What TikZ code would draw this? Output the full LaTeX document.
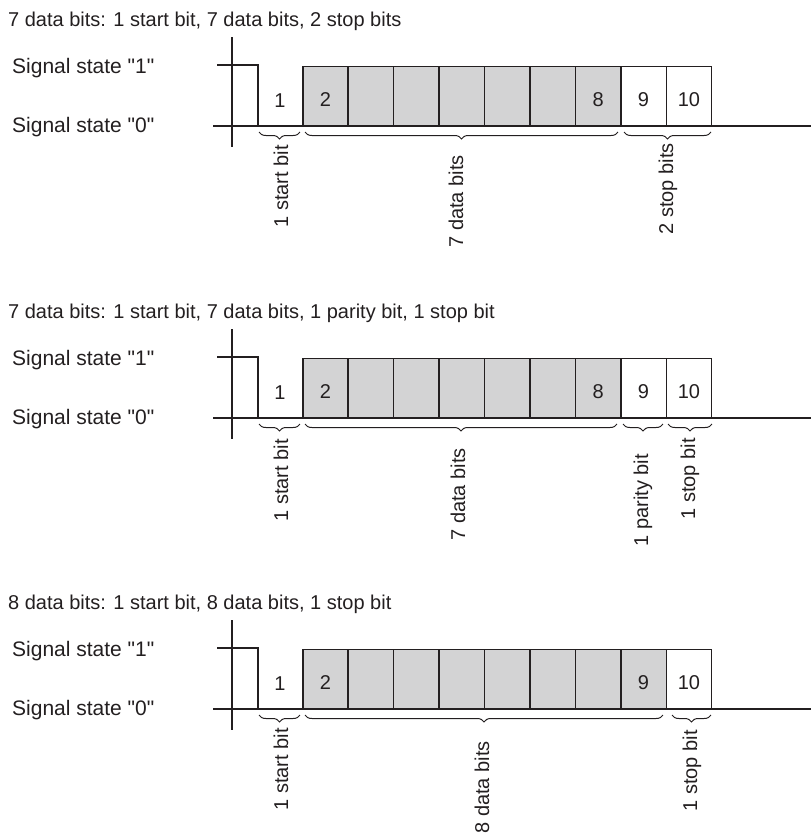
\documentclass[tikz,border=0pt]{standalone}
\usepackage{fontspec}
\setmainfont{Liberation Sans}[Ligatures=TeXOff]
\usetikzlibrary{decorations.pathreplacing}
\definecolor{ink}{RGB}{35,31,32}
\definecolor{databit}{RGB}{211,211,212}
\tikzset{
  bitbox/.style={draw=ink, line width=1.5pt, minimum width=45.44pt, minimum height=59pt,
    inner sep=0pt, text height=21pt, text depth=0pt, anchor=south west,
    font=\fontsize{20}{24}\selectfont, text=ink},
  startgap/.style={text=ink, font=\fontsize{20}{24}\selectfont, text height=21pt,
    text depth=0pt, inner sep=0pt, minimum height=59pt},
  sig/.style={draw=ink, line width=1.3pt},
  brc/.style={draw=ink, line width=1pt, decorate,
    decoration={brace, mirror, amplitude=7pt, aspect=0.5}},
  brl/.style={rotate=90, anchor=east, inner sep=0pt, text=ink, font=\fontsize{20}{24}\selectfont},
  ttl/.style={anchor=base west, inner sep=0pt, text=ink, font=\fontsize{20}{24}\selectfont},
  lvl/.style={anchor=base west, inner sep=0pt, text=ink, font=\fontsize{21}{25}\selectfont},
}
\begin{document}
\begin{tikzpicture}[x=1pt, y=-1pt]
\useasboundingbox (0,0) rectangle (811,839);

% ---------- frame 1: 7 data bits, 2 stop bits ----------
\begin{scope}
  \node[ttl] (t1) at (8,26) {7 data bits: 1 start bit, 7 data bits, 2 stop bits};
  \node[lvl] (h1) at (12,73) {Signal state "1"};
  \node[lvl] (l1) at (12,132) {Signal state "0"};
  \draw[sig] (232,37) -- (232,147);
  \draw[sig] (213,126) -- (811,126);
  \draw[sig] (217,65) -- (258,65) -- (258,126);
  \node[startgap] (p1b1) at (280,96.5) {1};
  \foreach \n/\t/\c in {2/2/databit,3/ /databit,4/ /databit,5/ /databit,6/ /databit,
                        7/ /databit,8/8/databit,9/9/white,10/10/white}
    \node[bitbox, fill=\c] (p1b\n) at ({302+45.44*(\n-2)},126) {\t};
  \draw[brc] (259,132) -- (300,132);
  \draw[brc] (305,132) -- (618,132);
  \draw[brc] (624,132) -- (711,132);
  \node[brl] (p1s) at (281,145) {1 start bit};
  \node[brl] (p1d) at (456,155) {7 data bits};
  \node[brl] (p1p) at (668,143) {2 stop bits};
\end{scope}

% ---------- frame 2: 7 data bits, parity, 1 stop bit ----------
\begin{scope}[yshift=-292pt]
  \node[ttl] (t2) at (8,26) {7 data bits: 1 start bit, 7 data bits, 1 parity bit, 1 stop bit};
  \node[lvl] (h2) at (12,73) {Signal state "1"};
  \node[lvl] (l2) at (12,132) {Signal state "0"};
  \draw[sig] (232,37) -- (232,147);
  \draw[sig] (213,126) -- (811,126);
  \draw[sig] (217,65) -- (258,65) -- (258,126);
  \node[startgap] (p2b1) at (280,96.5) {1};
  \foreach \n/\t/\c in {2/2/databit,3/ /databit,4/ /databit,5/ /databit,6/ /databit,
                        7/ /databit,8/8/databit,9/9/white,10/10/white}
    \node[bitbox, fill=\c] (p2b\n) at ({302+45.44*(\n-2)},126) {\t};
  \draw[brc] (259,132) -- (300,132);
  \draw[brc] (305,132) -- (617,132);
  \draw[brc] (623,132) -- (663,132);
  \draw[brc] (668,132) -- (712,132);
  \node[brl] (p2s) at (281,147) {1 start bit};
  \node[brl] (p2d) at (458,156) {7 data bits};
  \node[brl] (p2q) at (643,162) {1 parity bit};
  \node[brl] (p2p) at (690,146) {1 stop bit};
\end{scope}

% ---------- frame 3: 8 data bits, 1 stop bit ----------
\begin{scope}[yshift=-583pt]
  \node[ttl] (t3) at (8,26) {8 data bits: 1 start bit, 8 data bits, 1 stop bit};
  \node[lvl] (h3) at (12,73) {Signal state "1"};
  \node[lvl] (l3) at (12,132) {Signal state "0"};
  \draw[sig] (232,37) -- (232,147);
  \draw[sig] (213,126) -- (811,126);
  \draw[sig] (217,65) -- (258,65) -- (258,126);
  \node[startgap] (p3b1) at (280,96.5) {1};
  \foreach \n/\t/\c in {2/2/databit,3/ /databit,4/ /databit,5/ /databit,6/ /databit,
                        7/ /databit,8/ /databit,9/9/databit,10/10/white}
    \node[bitbox, fill=\c] (p3b\n) at ({302+45.44*(\n-2)},126) {\t};
  \draw[brc] (259,132) -- (300,132);
  \draw[brc] (305,132) -- (663,132);
  \draw[brc] (672,132) -- (711,132);
  \node[brl] (p3s) at (281,145) {1 start bit};
  \node[brl] (p3d) at (482,158) {8 data bits};
  \node[brl] (p3p) at (692,147) {1 stop bit};
\end{scope}
\end{tikzpicture}
\end{document}
